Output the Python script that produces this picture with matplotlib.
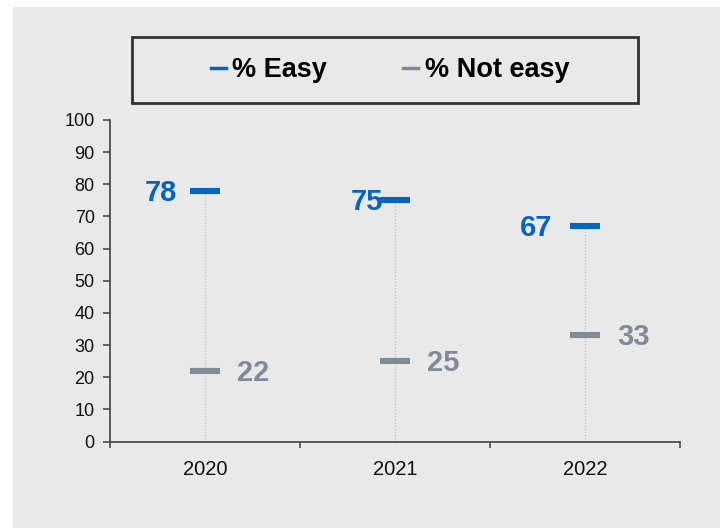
import numpy as np
import matplotlib
matplotlib.use("Agg")
import matplotlib.pyplot as plt
from matplotlib.patches import Rectangle
from matplotlib.lines import Line2D

plt.rcParams['font.family'] = ['Liberation Sans', 'DejaVu Sans']

###############################################################################

years = ['2020', '2021', '2022']
pct_easy = [78, 75, 67]
pct_not_easy = [22, 25, 33]
series_names = ['% Easy', '% Not easy']

BLUE = '#0563C1'
GREY = '#7F8C98'
AXIS = '#404040'
BG = '#E9E9E9'

# horizontal nudge (pixels) of each "easy" value label, left of its dash
easy_label_dx = [-28, -12, -33]

###############################################################################

W, H = 720, 528
fig = plt.figure(figsize=(W / 100, H / 100), dpi=100, facecolor='white')
fig.patches.append(Rectangle((13 / W, 0), 1 - 13 / W, 1 - 7 / H,
                             transform=fig.transFigure, facecolor=BG,
                             edgecolor='none', zorder=-10))

ax = fig.add_axes([110 / W, 1 - 441.5 / H, 570 / W, 321.5 / H])
ax.set_facecolor('none')

x = np.arange(len(years))
half = 0.079

# dotted stems from the axis up to the "easy" value
ax.vlines(x, 0, pct_easy, colors='#C4C4C4', linestyles=(0, (1, 1.5)),
          linewidth=0.9, zorder=1)
ax.hlines(pct_easy, x - half, x + half, colors=BLUE, linewidth=4.4, zorder=3)
ax.hlines(pct_not_easy, x - half, x + half, colors=GREY, linewidth=4.4, zorder=3)

for i, (e, n) in enumerate(zip(pct_easy, pct_not_easy)):
    ax.annotate(str(e), (x[i], e), xytext=(easy_label_dx[i], -2),
                textcoords='offset pixels', ha='right', va='center',
                fontsize=21, fontweight='bold', color=BLUE, zorder=4)
    ax.annotate(str(n), (x[i], n), xytext=(32, -2),
                textcoords='offset pixels', ha='left', va='center',
                fontsize=21, fontweight='bold', color=GREY, zorder=4)

ax.set_xlim(-0.5, len(years) - 0.5)
ax.set_ylim(0, 100)
ax.set_yticks(np.arange(0, 101, 10))
ax.set_xticks(x)
ax.set_xticklabels(years)
ax.set_xticks(np.arange(len(years) + 1) - 0.5, minor=True)

for side in ['top', 'right']:
    ax.spines[side].set_visible(False)
for side in ['left', 'bottom']:
    ax.spines[side].set_color(AXIS)
    ax.spines[side].set_linewidth(1.2)

ax.tick_params(axis='y', direction='out', length=5, width=1.1, color=AXIS,
               pad=6, labelsize=13, labelcolor='#111111')
ax.tick_params(axis='x', which='major', length=0, pad=13, labelsize=14.5,
               labelcolor='#111111')
ax.tick_params(axis='x', which='minor', direction='out', length=4.5,
               width=1.1, color=AXIS)

# legend in a framed box above the plot
box = Rectangle((132 / W, 1 - 103 / H), 506 / W, 66 / H,
                transform=fig.transFigure, facecolor=BG, edgecolor='#333333',
                linewidth=2, zorder=1)
fig.patches.append(box)
handles = [Line2D([], [], color=BLUE, linewidth=2.5),
           Line2D([], [], color=GREY, linewidth=2.5)]
leg = fig.legend(handles, series_names, loc='center',
                 bbox_to_anchor=(390 / W, 1 - 70 / H), ncol=2, frameon=False,
                 handlelength=0.55, handletextpad=0.25, columnspacing=2.8,
                 prop={'size': 19.5, 'weight': 'bold'})

fig.savefig('out.png', dpi=100, facecolor=fig.get_facecolor())
